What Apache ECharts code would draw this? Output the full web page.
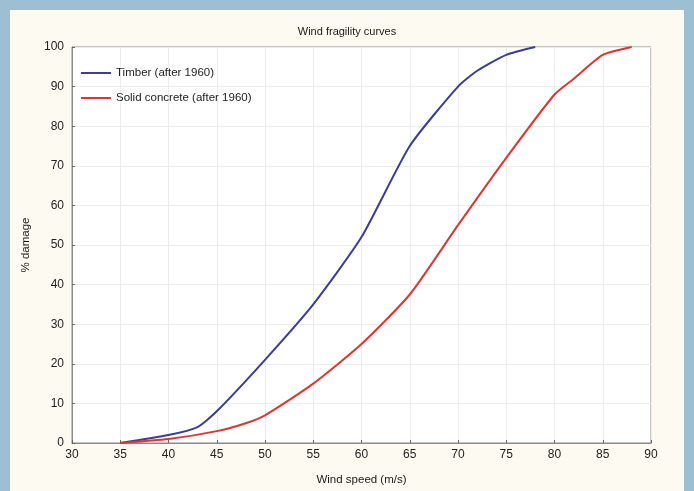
<!DOCTYPE html>
<html><head><meta charset="utf-8">
<script src="https://cdn.jsdelivr.net/npm/echarts@6/dist/echarts.min.js"></script>
<style>
html,body{margin:0;padding:0;width:694px;height:491px;background:#9dbfd4;overflow:hidden}
#panel{position:absolute;left:10px;top:10px;width:674px;height:481px;background:#fcfaf1}
#c{position:absolute;left:0;top:0;width:694px;height:491px}
</style></head><body>
<div id="panel"></div>
<div id="c"></div>
<script>
const title = "Wind fragility curves";
const xLabel = "Wind speed (m/s)";
const yLabel = "% damage";
const timberName = "Timber (after 1960)";
const concreteName = "Solid concrete (after 1960)";
const timberX = [35, 40, 43, 45, 50, 55, 60, 65, 70, 72, 75, 78];
const timberY = [0, 2, 4, 8, 21, 35, 52, 75, 90, 94, 98, 100];
const concreteX = [35, 40, 45, 48, 50, 55, 60, 65, 70, 75, 80, 82, 85, 88];
const concreteY = [0, 1, 3, 5, 7, 15, 25, 37.5, 55, 72, 88, 92, 98, 100];
const pairs = (xs, ys) => xs.map((x, i) => [x, ys[i]]);
const font = "Liberation Sans, Arial, sans-serif";
const chart = echarts.init(document.getElementById('c'));
chart.setOption({
  animation: false,
  textStyle: {fontFamily: font},
  title: {text: title, left: 'center', top: 21, textStyle: {fontSize: 11, fontWeight: 'normal', color: '#1a1a1a', fontFamily: font}},
  grid: {left: 72, right: 43, top: 47, bottom: 46, show: true, backgroundColor: '#ffffff', borderColor: '#8a8a8a', borderWidth: 1},
  legend: {
    orient: 'vertical', left: 76, top: 62, itemWidth: 30, itemHeight: 2, itemGap: 13, icon: 'rect',
    textStyle: {fontSize: 11.5, color: '#222', fontFamily: font},
    data: [timberName, concreteName]
  },
  xAxis: {
    type: 'value', min: 30, max: 90, interval: 5,
    name: xLabel, nameLocation: 'middle', nameGap: 31,
    nameTextStyle: {fontSize: 11.5, color: '#1a1a1a'},
    axisLine: {show: true, lineStyle: {color: '#8a8a8a'}},
    axisTick: {show: true, inside: true, length: 3, lineStyle: {color: '#666'}},
    axisLabel: {fontSize: 12, color: '#222', margin: 6},
    splitLine: {show: true, lineStyle: {color: '#ececec', width: 1}}
  },
  yAxis: {
    type: 'value', min: 0, max: 100, interval: 10,
    name: yLabel, nameLocation: 'middle', nameGap: 40, nameRotate: 90,
    nameTextStyle: {fontSize: 11.5, color: '#1a1a1a'},
    axisLine: {show: true, lineStyle: {color: '#8a8a8a'}},
    axisTick: {show: true, inside: true, length: 3, lineStyle: {color: '#666'}},
    axisLabel: {fontSize: 12, color: '#222', margin: 8},
    splitLine: {show: true, lineStyle: {color: '#ececec', width: 1}}
  },
  series: [
    {name: timberName, type: 'line', data: pairs(timberX, timberY), showSymbol: false, symbol: 'none', smooth: 0.2,
     lineStyle: {color: '#3a3d9a', width: 2}, itemStyle: {color: '#3a3d9a'}},
    {name: concreteName, type: 'line', data: pairs(concreteX, concreteY), showSymbol: false, symbol: 'none', smooth: 0.2,
     lineStyle: {color: '#e0352f', width: 2}, itemStyle: {color: '#e0352f'}}
  ]
});
</script>
</body></html>
